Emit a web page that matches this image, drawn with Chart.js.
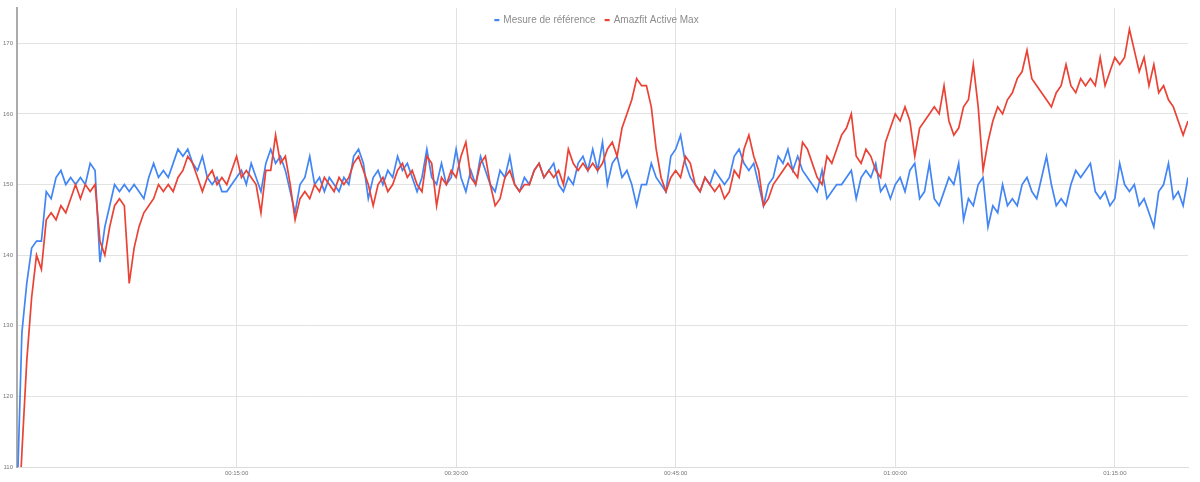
<!DOCTYPE html>
<html>
<head>
<meta charset="utf-8">
<script src="https://cdn.jsdelivr.net/npm/chart.js@4.4.1/dist/chart.umd.min.js"></script>
<style>
  html, body { margin: 0; padding: 0; background: #fff; }
  #wrap { width: 1200px; height: 482px; position: relative; }
</style>
</head>
<body>
<div id="wrap"><canvas id="hr-canvas" width="1200" height="482"></canvas></div>
<script>
// fréquence cardiaque, un point toutes les 20 s
const SAMPLE_STEP_S = 20;

const seriesLabels = ['Mesure de référence', 'Amazfit Active Max'];
const seriesColors = ['#4285f4', '#ea4335'];

// ceinture / mesure de référence (bpm)
const refBpm = [
  105,129,136,141,142,142,149,148,151,152,
  150,151,150,151,150,153,152,139,144,147,
  150,149,150,149,150,149,148,151,153,151,
  152,151,153,155,154,155,153,152,154,151,
  150,151,149,149,150,151,152,150,153,151,
  149,153,155,153,154,152,149,146,150,151,
  154,150,151,149,151,150,149,151,150,154,
  155,153,148,151,152,150,152,151,154,152,
  153,151,149,151,155,151,150,153,150,151,
  155,151,149,152,150,154,152,150,149,152,
  151,154,150,149,151,150,152,153,151,152,
  153,150,149,151,150,153,154,152,155,152,
  156,150,153,154,151,152,150,147,150,150,
  153,151,150,149,154,155,157,153,151,150,
  149,151,150,152,151,150,151,154,155,153,
  152,153,150,147,150,151,154,153,155,152,
  154,152,151,150,149,152,148,149,150,150,
  151,152,148,151,152,151,153,149,150,148,
  150,151,149,152,153,148,149,153,148,147,
  149,151,150,153,145,148,147,150,151,144,
  147,146,150,147,148,147,150,151,149,148,
  151,154,150,147,148,147,150,152,151,152,
  153,149,148,149,147,148,153,150,149,150,
  147,148,146,144,149,150,153,148,149,147,151
];

// montre Amazfit Active Max (bpm)
const amazfitBpm = [
  98,112,125,134,140,138,145,146,145,147,
  146,148,150,148,150,149,150,142,140,144,
  147,148,147,136,141,144,146,147,148,150,
  149,150,149,151,152,154,153,151,149,151,
  152,150,151,150,152,154,151,152,151,150,
  146,152,152,157,153,154,150,145,148,149,
  148,150,149,151,150,149,151,150,151,153,
  154,152,150,147,150,151,149,150,152,153,
  151,152,150,149,154,153,147,151,150,152,
  151,154,156,151,150,153,154,150,147,148,
  151,152,150,149,150,150,152,153,151,152,
  151,152,150,155,153,152,153,152,153,152,
  153,155,156,154,158,160,162,165,164,164,
  161,155,151,149,151,152,151,154,153,150,
  149,151,150,149,150,148,149,152,151,155,
  157,154,152,147,148,150,151,152,153,152,
  151,156,155,153,151,150,154,153,155,157,
  158,160,154,153,155,154,152,151,156,158,
  160,159,161,159,154,158,159,160,161,160,
  164,159,157,158,161,162,167,161,152,156,
  159,161,160,162,163,165,166,169,165,164,
  163,162,161,163,164,167,164,163,165,164,
  165,164,168,164,166,168,167,168,172,169,
  166,168,164,167,163,164,162,161,159,157,159
];

// graduations
const xTickSeconds = [900, 1800, 2700, 3600, 4500];
const yTickValues = [110, 120, 130, 140, 150, 160, 170];
const X_MAX_S = 4800;
const Y_MIN = 110;
const Y_MAX = 175;

function toPoints(values) {
  return values.map((v, i) => ({ x: i * SAMPLE_STEP_S, y: v }));
}

function fmtTime(sec) {
  var h = Math.floor(sec / 3600);
  var m = Math.floor((sec % 3600) / 60);
  var s = sec % 60;
  var p = n => String(n).padStart(2, '0');
  return p(h) + ':' + p(m) + ':' + p(s);
}

// légende posée sur la zone du graphique, comme dans Sheets
const overlayLegend = {
  id: 'overlayLegend',
  afterDraw(chart) {
    var ctx = chart.ctx;
    var area = chart.chartArea;
    ctx.save();
    ctx.font = '10px "Liberation Sans", Arial, sans-serif';
    ctx.textBaseline = 'middle';
    var markW = 5, markGap = 4, itemGap = 9;
    var items = chart.data.datasets.map(ds => ({
      text: ds.label,
      color: ds.borderColor,
      w: ctx.measureText(ds.label).width
    }));
    var total = items.reduce((s, it) => s + markW + markGap + it.w, 0) + itemGap * (items.length - 1);
    var x = (area.left + area.right) / 2 - total / 2 - 6;
    var y = 20;
    items.forEach(it => {
      ctx.fillStyle = it.color;
      ctx.fillRect(x, y - 1, markW, 2.2);
      x += markW + markGap;
      ctx.fillStyle = '#8c8c8c';
      ctx.fillText(it.text, x, y);
      x += it.w + itemGap;
    });
    ctx.restore();
  }
};

var tickFont = { family: '"Liberation Sans", Arial, sans-serif', size: 6 };

new Chart(document.getElementById('hr-canvas'), {
  type: 'line',
  data: {
    datasets: [
      {
        label: seriesLabels[0],
        data: toPoints(refBpm),
        borderColor: seriesColors[0],
        borderWidth: 1.7,
        pointRadius: 0,
        tension: 0,
        order: 1
      },
      {
        label: seriesLabels[1],
        data: toPoints(amazfitBpm),
        borderColor: seriesColors[1],
        borderWidth: 1.7,
        pointRadius: 0,
        tension: 0,
        order: 0
      }
    ]
  },
  options: {
    responsive: false,
    animation: false,
    devicePixelRatio: 1,
    layout: { padding: { top: 8, right: 12, left: 0, bottom: 0 } },
    plugins: {
      legend: { display: false },
      tooltip: { enabled: false }
    },
    scales: {
      x: {
        type: 'linear',
        min: 0,
        max: X_MAX_S,
        afterBuildTicks: scale => { scale.ticks = xTickSeconds.map(v => ({ value: v })); },
        afterFit: scale => { scale.height = 15; },
        grid: { color: '#e2e2e2', lineWidth: 1, drawTicks: false },
        border: { color: '#dcdcdc', width: 1 },
        ticks: {
          color: '#777',
          font: tickFont,
          padding: 3,
          maxRotation: 0,
          autoSkip: false,
          callback: v => fmtTime(v)
        }
      },
      y: {
        min: Y_MIN,
        max: Y_MAX,
        afterBuildTicks: scale => { scale.ticks = yTickValues.map(v => ({ value: v })); },
        afterFit: scale => { scale.width = 17; },
        grid: { color: '#e2e2e2', lineWidth: 1, drawTicks: false },
        border: { color: '#ababab', width: 2 },
        ticks: {
          color: '#777',
          font: tickFont,
          padding: 4
        }
      }
    }
  },
  plugins: [overlayLegend]
});
</script>
</body>
</html>
